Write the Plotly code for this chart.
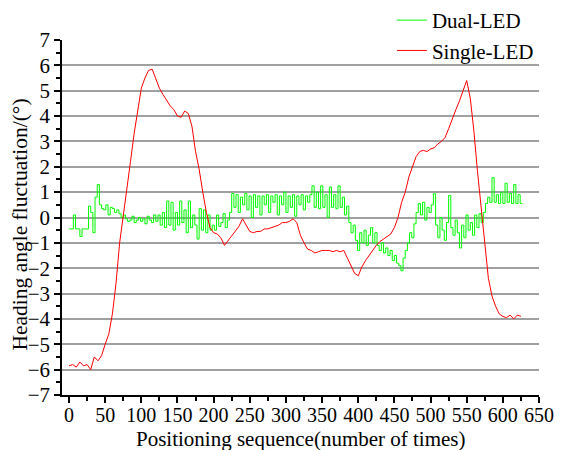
import plotly.graph_objects as go

# Dual-LED: positioning sequence (step 3) and heading angle fluctuation
dual_x = list(range(0, 628, 3))
dual_y = [
    -0.45, -0.45, 0.1, -0.45, -0.45, -0.75, -0.45, -0.45, -0.45,
    0.45, 0.2, -0.6, 0.8, 1.3, 0.5, 0.35,
    0.3, 0.5, 0.1, 0.4, 0.35, 0.2, 0.3, 0.15,
    0.0, 0.1, -0.05, -0.15, -0.1, 0.05, -0.2, -0.1, 0.0, -0.15, -0.05, -0.25, 0.05, -0.1, -0.2, 0.1, -0.15,
    0.1, -0.3, 0.2, -0.4, 0.65, -0.3, 0.6, -0.5, 0.2, -0.3, 0.65, -0.2, 0.3, -0.6, 0.65,
    -0.4, 0.1, -0.3, -0.85, 0.35, -0.5, 0.3, -0.6, 0.1, -0.5,
    -0.3, -0.5, 0.1, -0.35, -0.2, 0.15, -0.4, -0.1, 0.2,
    0.95, 0.4, 0.9, 0.2, 0.8, 0.5, 0.95, 0.3, 0.85, 0.0, 0.9, 0.4, 0.85, 0.1, 0.85, 0.5, 0.9, 0.2,
    0.85, 0.6, 0.9, 0.1, 0.85, 0.5, 1.0, 0.2, 0.85, 0.4, 0.9, 0.05, 0.85, 0.5, 0.9, 0.3, 0.85, 0.6,
    0.9, 1.25,
    0.4, 1.0, 0.35, 1.25, 0.4, 0.9, 0.0, 1.2, 0.4, 0.9, 0.35, 1.25, 0.4, 0.8, 0.1, 0.45,
    -0.2, -0.6, -0.3, -0.9, -1.3, -0.6, -1.0, -0.5, -1.1, -0.7, -0.4, -1.0, -0.6, -1.1,
    -1.3, -1.0, -1.4, -1.2, -1.5, -1.3, -1.7, -1.5, -1.8, -1.9,
    -2.1, -1.6, -1.3, -1.0, -0.6, -0.8, -0.25, 0.2,
    0.55, 0.1, 0.6, -0.1, 0.4, 0.2, 0.5, 0.94,
    -0.3, -0.8, 0.0, -0.5, -0.9, -0.2, 0.87, -0.4, -0.7, -0.1, -0.6, -1.2, -0.3, -0.8, 0.1, -0.5,
    -0.2, -0.7, 0.1, -0.4, 0.15, -0.2,
    0.2, 0.55, 0.8, 0.6, 1.57, 0.6, 0.9, 0.55, 1.0, 0.55, 1.35, 0.6, 0.95, 0.55, 1.3, 0.55, 0.9,
    0.55, 0.55,
]

# Single-LED: positioning sequence (step 5) and heading angle fluctuation
single_x = list(range(0, 626, 5))
single_y = [
    -5.85, -5.8, -5.9, -5.7, -5.85, -5.8, -6.0, -5.5, -5.65, -5.45,
    -5.0, -4.6, -3.8, -2.6, -1.0, 0.0, 1.0, 2.2, 3.3, 4.2,
    5.1, 5.5, 5.8, 5.85, 5.45, 5.1, 4.85, 4.6, 4.4, 4.25,
    4.0, 3.95, 4.2, 4.1, 3.6, 2.6, 1.9, 1.0, 0.2, -0.4,
    -0.6, -0.65, -0.8, -1.1, -0.9, -0.7, -0.5, -0.35, -0.05, -0.3,
    -0.55, -0.6, -0.55, -0.55, -0.45, -0.45, -0.4, -0.35, -0.3, -0.2,
    -0.2, -0.15, -0.05, -0.2, -0.7, -1.0, -1.25, -1.3, -1.4, -1.35,
    -1.3, -1.3, -1.3, -1.35, -1.3, -1.35, -1.3, -1.6, -1.9, -2.2,
    -2.3, -1.95, -1.7, -1.5, -1.25, -1.1, -0.95, -0.85, -0.75, -0.65,
    -0.4, 0.0, 0.6, 1.0, 1.6, 2.0, 2.4, 2.6, 2.65, 2.6,
    2.7, 2.75, 2.9, 3.0, 3.15, 3.5, 3.9, 4.25, 4.6, 5.0,
    5.4, 4.7, 3.4, 1.8, 0.4, -1.0, -2.4, -3.1, -3.5, -3.8,
    -3.9, -3.95, -3.85, -4.0, -3.85, -3.9,
]

x_title = "Positioning sequence(number of times)"
y_title = "Heading angle fluctuation/(°)"

FONT = "Liberation Serif"

fig = go.Figure()
fig.add_trace(go.Scatter(x=dual_x, y=dual_y, mode="lines", name="Dual-LED",
                         line=dict(color="#00ff00", width=1, shape="hv")))
fig.add_trace(go.Scatter(x=single_x, y=single_y, mode="lines", name="Single-LED",
                         line=dict(color="#ff0000", width=1)))

fig.update_layout(
    width=573, height=450,
    margin=dict(l=62, r=34, t=40, b=55, autoexpand=False),
    paper_bgcolor="white", plot_bgcolor="white",
    font=dict(family=FONT, size=20, color="black"),
    showlegend=True,
    legend=dict(xref="container", yref="container", x=0.684, y=1.0,
                xanchor="left", yanchor="top",
                bgcolor="rgba(0,0,0,0)", font=dict(family=FONT, size=21),
                tracegroupgap=0, itemwidth=30),
    xaxis=dict(
        range=[-9.7, 650], tick0=0, dtick=50, showgrid=False, zeroline=False,
        showline=True, linecolor="black", linewidth=1.5, automargin=False,
        ticks="outside", ticklen=6, tickwidth=1.5, tickcolor="black",
        minor=dict(dtick=25, tick0=0, ticks="outside", ticklen=4, tickwidth=1.5, tickcolor="black"),
        tickfont=dict(family=FONT, size=20), ticklabelstandoff=-5,
    ),
    yaxis=dict(
        range=[-7, 7], tick0=0, dtick=1, showgrid=True, gridcolor="#a0a0a0", gridwidth=1.5,
        zeroline=False, showline=True, linecolor="black", linewidth=1.5, automargin=False,
        ticks="outside", ticklen=6, tickwidth=1.5, tickcolor="black",
        minor=dict(dtick=0.5, tick0=0, ticks="outside", ticklen=4, tickwidth=1.5, tickcolor="black", showgrid=False),
        tickfont=dict(family=FONT, size=21),
    ),
    annotations=[
        dict(text=x_title, xref="paper", yref="paper", x=0.5, y=-0.124,
             xanchor="center", yanchor="middle", showarrow=False,
             font=dict(family=FONT, size=21, color="black")),
        dict(text=y_title, xref="paper", yref="paper", x=-0.0881, y=0.48,
             xanchor="center", yanchor="middle", showarrow=False, textangle=-90,
             font=dict(family=FONT, size=21.5, color="black")),
    ],
)

fig.write_html("out.html")
